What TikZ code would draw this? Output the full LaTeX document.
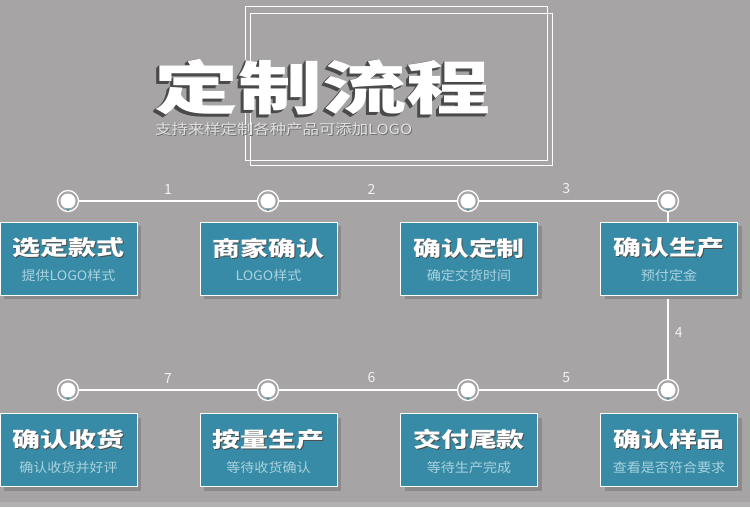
\documentclass[tikz,border=0pt]{standalone}
\usepackage{fontspec}
\usepackage{graphicx}
\newfontfamily\cjk{Noto Sans CJK SC}
\newfontfamily\cjkh{Noto Sans CJK SC Black}
\usetikzlibrary{shadows}
\definecolor{bg}{HTML}{A6A4A5}
\definecolor{teal}{HTML}{388BA6}
\definecolor{subc}{HTML}{A9D2DF}
\definecolor{shd}{HTML}{8C8A8B}
\definecolor{tshd}{HTML}{4A4A4A}
\tikzset{
  stepbox/.style={draw=white, line width=1pt, fill=teal, minimum width=137pt, minimum height=73pt, inner sep=0pt,
     general shadow={fill=shd, shadow xshift=4pt, shadow yshift=-4pt}},
  btitle/.style={inner sep=0pt, text=white, font=\cjkh\fontsize{21}{21}\selectfont},
  bsub/.style={inner sep=0pt, text=subc, font=\cjk\fontsize{13}{13}\selectfont},
  ring/.style={circle, draw=white, line width=1.3pt, minimum size=21pt, inner sep=0pt},
  link/.style={draw=white, line width=1.8pt},
  num/.style={inner sep=0pt, text=white!95!black, font=\cjk\fontsize{14}{14}\selectfont},
}
\newcommand{\lay}[4]{\makebox[0pt][l]{\hspace*{#1}\raisebox{#2}{\textcolor{#3}{#4}}}}
\newcommand{\extr}[1]{\lay{-3pt}{-3.6pt}{tshd}{#1}\lay{-2.25pt}{-2.7pt}{tshd}{#1}\lay{-1.5pt}{-1.8pt}{tshd}{#1}\lay{-0.75pt}{-0.9pt}{tshd}{#1}#1}
\newcommand{\btxt}[1]{\lay{1pt}{-1pt}{black!70}{\scalebox{1.33}[1]{#1}}\scalebox{1.33}[1]{#1}}
\begin{document}
\begin{tikzpicture}[x=1pt,y=-1pt]
\useasboundingbox (0,0) rectangle (750,507);
\fill[bg] (0,0) rectangle (750,507);
\fill[bg!85!white] (0,502) rectangle (750,507);
% frames
\draw[white, line width=1pt] (245,6) rectangle (547,160);
\draw[white, line width=1pt] (250,13) rectangle (552,165);
% title with extrusion
\node (title) [inner sep=0pt, text=white, anchor=base west, font=\cjkh\fontsize{58}{58}\selectfont] at (154,109) {\extr{\scalebox{1.45}[1]{定制流程}}};
\node (subtitle) [inner sep=0pt, text=white!88!black, anchor=west, font=\cjk\fontsize{14}{14}\selectfont] at (155,130) {\lay{1pt}{-1pt}{black!55}{\scalebox{1.17}[1]{支持来样定制各种产品可添加LOGO}}\scalebox{1.17}[1]{支持来样定制各种产品可添加LOGO}};
% rings
\foreach \n/\x/\y in {c1/68/201, c2/268/201, c3/468/201, c4/668/201, c5/68/390, c6/268/390, c7/468/390, c8/668/390} {
  \node[ring] (\n) at (\x,\y) {};
}
% connectors
\draw[link] (c1) -- node[num, above=6pt, pos=0.5] (n1) {1} (c2);
\draw[link] (c2) -- node[num, above=6pt, pos=0.52] (n2) {2} (c3);
\draw[link] (c3) -- node[num, above=6pt, pos=0.49] (n3) {3} (c4);
\draw[link] (c4) -- node[num, right=6pt, pos=0.72] (n4) {4} (c8);
\draw[link] (c8) -- node[num, above=6pt, pos=0.51] (n5) {5} (c7);
\draw[link] (c7) -- node[num, above=6pt, pos=0.48] (n6) {6} (c6);
\draw[link] (c6) -- node[num, above=6pt, pos=0.5] (n7) {7} (c5);
% inner dots
\foreach \n in {c1,c2,c3,c4,c5,c6,c7,c8} {
  \fill[teal] ([xshift=-3pt,yshift=-6pt]\n.center) -- ([xshift=3pt,yshift=-6pt]\n.center) -- ([yshift=-10pt]\n.center) -- cycle;
  \fill[white] (\n.center) circle (7.5pt);
}
% boxes
\foreach \n/\x/\y/\t/\s in {
  b1/68.5/258.5/选定款式/提供LOGO样式,
  b2/268.5/258.5/商家确认/LOGO样式,
  b3/469/258.5/确认定制/确定交货时间,
  b4/669/258.5/确认生产/预付定金,
  b5/68.5/450/确认收货/确认收货并好评,
  b6/268.5/450/按量生产/等待收货确认,
  b7/469/450/交付尾款/等待生产完成,
  b8/669/450/确认样品/查看是否符合要求} {
  \node[stepbox] (\n) at (\x,\y) {};
  \node[btitle] (\n t) at ([yshift=10pt]\n.center) {\btxt{\t}};
  \node[bsub] (\n s) at ([yshift=-17.5pt]\n.center) {\scalebox{1.08}[1]{\s}};
}
\end{tikzpicture}
\end{document}
